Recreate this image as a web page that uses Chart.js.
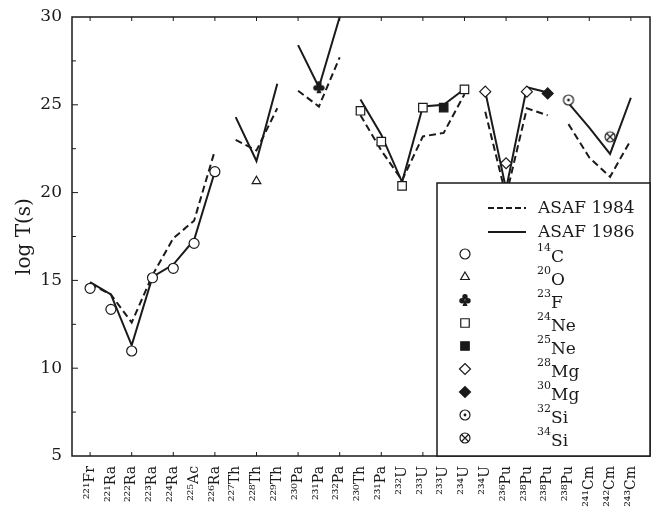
<!DOCTYPE html>
<html lang="en">
<head>
    <meta charset="UTF-8">
    <title>log T(s) - ASAF</title>
    <script src="https://cdn.jsdelivr.net/npm/chart.js"></script>
    <style>
        body {
            margin: 0;
            background-color: #ffffff;
            overflow: hidden;
        }
        canvas {
            display: block;
        }
    </style>
</head>
<body>

<canvas id="halfLifeChart" width="651" height="515"></canvas>

<script>
    // parent nuclei on the x axis
    const isotopes = ['²²¹Fr', '²²¹Ra', '²²²Ra', '²²³Ra', '²²⁴Ra', '²²⁵Ac', '²²⁶Ra', '²²⁷Th', '²²⁸Th', '²²⁹Th',
        '²³⁰Pa', '²³¹Pa', '²³²Pa', '²³⁰Th', '²³¹Pa', '²³²U', '²³³U', '²³³U', '²³⁴U', '²³⁴U',
        '²³⁶Pu', '²³⁸Pu', '²³⁸Pu', '²³⁸Pu', '²⁴¹Cm', '²⁴²Cm', '²⁴³Cm'];
    // which emitted cluster each column belongs to (lines are broken between groups)
    const groups = [1, 1, 1, 1, 1, 1, 1, 2, 2, 2, 3, 3, 3, 4, 4, 4, 4, 4, 4, 5, 5, 5, 5, 6, 6, 6, 6];

    const asaf1984 = [14.8, 14.2, 12.6, 15.3, 17.4, 18.4, 22.4, 23.0, 22.4, 24.8, 25.8, 24.9, 27.7,
        24.4, 22.4, 20.7, 23.2, 23.4, 25.6, 24.6, 19.8, 24.8, 24.4, 23.9, 22.0, 20.9, 23.0];
    const asaf1986 = [14.9, 14.2, 11.3, 15.2, 15.9, 17.3, 21.2, 24.3, 21.8, 26.2, 28.4, 26.0, 30.0,
        25.3, 23.3, 20.6, 24.9, 25.0, 25.9, 25.75, 20.2, 26.0, 25.7, 25.1, 23.7, 22.2, 25.4];

    // experimental values
    const c14  = [14.55, 13.35, 10.98, 15.15, 15.69, 17.11, 21.19, null, null, null, null, null, null, null, null, null, null, null, null, null, null, null, null, null, null, null, null];
    const o20  = [null, null, null, null, null, null, null, null, 20.65, null, null, null, null, null, null, null, null, null, null, null, null, null, null, null, null, null, null];
    const f23  = [null, null, null, null, null, null, null, null, null, null, null, 26.0, null, null, null, null, null, null, null, null, null, null, null, null, null, null, null];
    const ne24 = [null, null, null, null, null, null, null, null, null, null, null, null, null, 24.66, 22.9, 20.38, 24.84, null, 25.88, null, null, null, null, null, null, null, null];
    const ne25 = [null, null, null, null, null, null, null, null, null, null, null, null, null, null, null, null, null, 24.84, null, null, null, null, null, null, null, null, null];
    const mg28 = [null, null, null, null, null, null, null, null, null, null, null, null, null, null, null, null, null, null, null, 25.75, 21.67, 25.75, null, null, null, null, null];
    const mg30 = [null, null, null, null, null, null, null, null, null, null, null, null, null, null, null, null, null, null, null, null, null, null, 25.65, null, null, null, null];
    const si32 = [null, null, null, null, null, null, null, null, null, null, null, null, null, null, null, null, null, null, null, null, null, null, null, 25.27, null, null, null];
    const si34 = [null, null, null, null, null, null, null, null, null, null, null, null, null, null, null, null, null, null, null, null, null, null, null, null, null, 23.18, null];

    const yTicks = [5, 10, 15, 20, 25, 30];
    const legendLabels = [['14', 'C'], ['20', 'O'], ['23', 'F'], ['24', 'Ne'], ['25', 'Ne'], ['28', 'Mg'], ['30', 'Mg'], ['32', 'Si'], ['34', 'Si']];

    const INK = '#1a1a1a';
    const SERIF = "'DejaVu Serif', serif";

    function toPoints(arr) {
        return arr.map((v, i) => ({ x: i, y: v }));
    }

    // small canvases for the symbols chart.js does not have
    function makeMarker(kind) {
        const c = document.createElement('canvas');
        c.width = 14;
        c.height = 14;
        const g = c.getContext('2d');
        g.strokeStyle = INK;
        g.fillStyle = INK;
        g.lineWidth = 1.2;
        if (kind === 'club') {
            g.beginPath(); g.arc(7, 3.8, 2.7, 0, Math.PI * 2); g.fill();
            g.beginPath(); g.arc(4, 7.8, 2.7, 0, Math.PI * 2); g.fill();
            g.beginPath(); g.arc(10, 7.8, 2.7, 0, Math.PI * 2); g.fill();
            g.beginPath(); g.moveTo(7, 6); g.lineTo(4.5, 13); g.lineTo(9.5, 13); g.closePath(); g.fill();
            return c;
        }
        g.fillStyle = '#fff';
        g.beginPath(); g.arc(7, 7, 5, 0, Math.PI * 2); g.fill(); g.stroke();
        if (kind === 'dot') {
            g.fillStyle = INK;
            g.beginPath(); g.arc(7, 7, 1.4, 0, Math.PI * 2); g.fill();
        } else {
            g.beginPath();
            g.moveTo(3.5, 3.5); g.lineTo(10.5, 10.5);
            g.moveTo(10.5, 3.5); g.lineTo(3.5, 10.5);
            g.stroke();
        }
        return c;
    }

    const clubImg = makeMarker('club');
    const dotImg = makeMarker('dot');
    const crossImg = makeMarker('cross');

    const markerStyles = [
        { data: c14, pointStyle: 'circle', pointRadius: 5, fill: '#fff' },
        { data: o20, pointStyle: 'triangle', pointRadius: 5, fill: '#fff' },
        { data: f23, pointStyle: clubImg, pointRadius: 6, fill: INK },
        { data: ne24, pointStyle: 'rect', pointRadius: 6, fill: '#fff' },
        { data: ne25, pointStyle: 'rect', pointRadius: 6, fill: INK },
        { data: mg28, pointStyle: 'rectRot', pointRadius: 5.5, fill: '#fff' },
        { data: mg30, pointStyle: 'rectRot', pointRadius: 5.5, fill: INK },
        { data: si32, pointStyle: dotImg, pointRadius: 6, fill: '#fff' },
        { data: si34, pointStyle: crossImg, pointRadius: 6, fill: '#fff' }
    ];

    function hideBetweenGroups(ctx) {
        return groups[ctx.p0DataIndex] === groups[ctx.p1DataIndex] ? undefined : 'rgba(0,0,0,0)';
    }

    const datasets = markerStyles.map(m => ({
        data: toPoints(m.data),
        showLine: false,
        pointStyle: m.pointStyle,
        pointRadius: m.pointRadius,
        pointBackgroundColor: m.fill,
        pointBorderColor: INK,
        pointBorderWidth: 1.2
    }));

    datasets.push({
        label: 'ASAF 1984',
        data: toPoints(asaf1984),
        borderColor: INK,
        borderWidth: 2,
        borderDash: [7, 4],
        pointRadius: 0,
        tension: 0,
        segment: { borderColor: hideBetweenGroups }
    });
    datasets.push({
        label: 'ASAF 1986',
        data: toPoints(asaf1986),
        borderColor: INK,
        borderWidth: 2,
        pointRadius: 0,
        tension: 0,
        segment: { borderColor: hideBetweenGroups }
    });

    // frame, inward ticks and the boxed legend
    const framePlugin = {
        id: 'framePlugin',
        afterDatasetsDraw(chart) {
            const { ctx, chartArea: a, scales: { x, y } } = chart;
            ctx.save();
            ctx.strokeStyle = INK;
            ctx.lineWidth = 1;
            ctx.beginPath();
            for (let v = 7.5; v < 30; v += 2.5) {
                const py = y.getPixelForValue(v);
                ctx.moveTo(a.left, py);
                ctx.lineTo(a.left + (v % 5 === 0 ? 6 : 4), py);
            }
            for (let i = 0; i < isotopes.length; i += 2) {
                const px = x.getPixelForValue(i);
                ctx.moveTo(px, a.bottom);
                ctx.lineTo(px, a.bottom - 4);
                ctx.moveTo(px, a.top);
                ctx.lineTo(px, a.top + 4);
            }
            ctx.stroke();

            ctx.lineWidth = 1.5;
            ctx.strokeRect(a.left, a.top, a.right - a.left, a.bottom - a.top);

            // legend box
            const bx = 437, by = 183;
            ctx.fillStyle = '#fff';
            ctx.fillRect(bx, by, a.right - bx, a.bottom - by);
            ctx.strokeRect(bx, by, a.right - bx, a.bottom - by);

            ctx.fillStyle = INK;
            ctx.textBaseline = 'middle';
            ctx.textAlign = 'left';
            ctx.font = '17px ' + SERIF;
            ctx.lineWidth = 2;
            ctx.beginPath();
            ctx.setLineDash([6, 3]);
            ctx.moveTo(488, 208);
            ctx.lineTo(526, 208);
            ctx.stroke();
            ctx.setLineDash([]);
            ctx.beginPath();
            ctx.moveTo(488, 232);
            ctx.lineTo(526, 232);
            ctx.stroke();
            ctx.fillText('ASAF 1984', 538, 209);
            ctx.fillText('ASAF 1986', 538, 233);

            ctx.lineWidth = 1.2;
            legendLabels.forEach((lab, k) => {
                const my = 254 + 23 * k;
                const m = markerStyles[k];
                ctx.fillStyle = m.fill;
                ctx.strokeStyle = INK;
                Chart.helpers.drawPoint(ctx, { pointStyle: m.pointStyle, radius: m.pointRadius, rotation: 0, borderWidth: 1.2 }, 465, my);
                ctx.fillStyle = INK;
                ctx.font = '11px ' + SERIF;
                ctx.fillText(lab[0], 537, my - 6);
                const w = ctx.measureText(lab[0]).width;
                ctx.font = '17px ' + SERIF;
                ctx.fillText(lab[1], 537 + w, my + 4);
            });
            ctx.restore();
        }
    };

    const ctx = document.getElementById('halfLifeChart').getContext('2d');
    const chart = new Chart(ctx, {
        type: 'line',
        data: { datasets: datasets },
        options: {
            responsive: false,
            animation: false,
            layout: { autoPadding: false, padding: { top: 17, right: 1 } },
            plugins: {
                legend: { display: false },
                tooltip: { enabled: false }
            },
            scales: {
                x: {
                    type: 'linear',
                    min: -0.87,
                    max: 26.92,
                    afterBuildTicks: s => { s.ticks = isotopes.map((_, i) => ({ value: i })); },
                    afterFit: s => {
                        s.height = 59;
                        s.paddingLeft = 0;
                        s.paddingRight = 0;
                    },
                    grid: { display: false, drawTicks: false },
                    border: { display: false },
                    ticks: {
                        autoSkip: false,
                        minRotation: 90,
                        maxRotation: 90,
                        padding: 10,
                        color: INK,
                        font: { family: SERIF, size: 14 },
                        callback: (v, i) => isotopes[i]
                    }
                },
                y: {
                    min: 5,
                    max: 30,
                    afterBuildTicks: s => { s.ticks = yTicks.map(v => ({ value: v })); },
                    afterFit: s => {
                        s.width = 72;
                        s.paddingTop = 0;
                        s.paddingBottom = 0;
                    },
                    grid: { display: false, drawTicks: false },
                    border: { display: false },
                    ticks: {
                        padding: 10,
                        color: INK,
                        font: { family: SERIF, size: 17 }
                    },
                    title: {
                        display: true,
                        text: 'log T(s)',
                        color: INK,
                        font: { family: SERIF, size: 20 },
                        padding: { top: 13, bottom: 0 }
                    }
                }
            }
        },
        plugins: [framePlugin]
    });

    // the marker radius should not shrink the plot area (frame runs to the right edge)
    chart.data.datasets.forEach((_, i) => {
        chart.getDatasetMeta(i).controller.getMaxOverflow = () => 1;
    });
    chart.update();
</script>

</body>
</html>
